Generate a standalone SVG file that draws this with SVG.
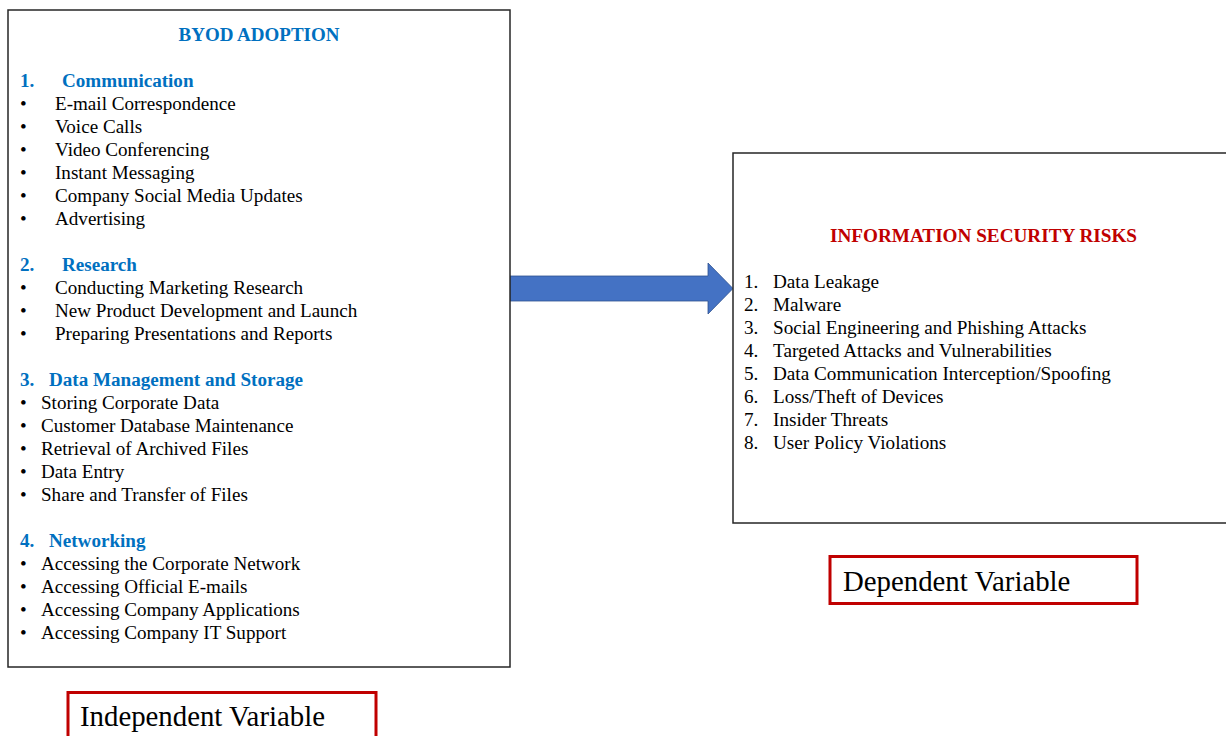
<svg xmlns="http://www.w3.org/2000/svg" width="1226" height="736" viewBox="0 0 1226 736">
  <style>
    .box { fill: #ffffff; stroke: #262626; stroke-width: 1.5; }
    .lbl { fill: #ffffff; stroke: #C00000; stroke-width: 3; }
    text { font-family: "Liberation Serif", "Times New Roman", serif; fill: #000000; }
    .item { font-size: 19.1px; }
    .head { font-size: 19.1px; font-weight: bold; fill: #0070C0; }
    .title-blue { font-size: 19px; font-weight: bold; fill: #0070C0; }
    .title-red { font-size: 19.2px; font-weight: bold; fill: #C00000; }
    .risk { font-size: 19.2px; }
    .var { font-size: 28.8px; }
  </style>

  <!-- connector: block arrow from adoption panel to risks panel -->
  <g id="connectors">
    <path d="M510,276 H708 V263 L733,288.5 L708,314 V301 H510 Z" fill="#4472C4" stroke="#2F528F" stroke-width="0.8"/>
  </g>

  <!-- left panel: BYOD adoption -->
  <g id="byod-adoption">
    <rect class="box" x="8" y="10" width="502" height="657"/>
    <text class="title-blue" x="259" y="41" text-anchor="middle">BYOD ADOPTION</text>

    <text class="head" x="20" y="87">1.</text>
    <text class="head" x="62" y="87">Communication</text>
    <g class="item">
      <text x="20" y="110">•</text><text x="55" y="110">E-mail Correspondence</text>
      <text x="20" y="133">•</text><text x="55" y="133">Voice Calls</text>
      <text x="20" y="156">•</text><text x="55" y="156">Video Conferencing</text>
      <text x="20" y="179">•</text><text x="55" y="179">Instant Messaging</text>
      <text x="20" y="202">•</text><text x="55" y="202">Company Social Media Updates</text>
      <text x="20" y="225">•</text><text x="55" y="225">Advertising</text>
    </g>

    <text class="head" x="20" y="271">2.</text>
    <text class="head" x="62" y="271">Research</text>
    <g class="item">
      <text x="20" y="294">•</text><text x="55" y="294">Conducting Marketing Research</text>
      <text x="20" y="317">•</text><text x="55" y="317">New Product Development and Launch</text>
      <text x="20" y="340">•</text><text x="55" y="340">Preparing Presentations and Reports</text>
    </g>

    <text class="head" x="20" y="386">3.</text>
    <text class="head" x="49" y="386">Data Management and Storage</text>
    <g class="item">
      <text x="20" y="409">•</text><text x="41" y="409">Storing Corporate Data</text>
      <text x="20" y="432">•</text><text x="41" y="432">Customer Database Maintenance</text>
      <text x="20" y="455">•</text><text x="41" y="455">Retrieval of Archived Files</text>
      <text x="20" y="478">•</text><text x="41" y="478">Data Entry</text>
      <text x="20" y="501">•</text><text x="41" y="501">Share and Transfer of Files</text>
    </g>

    <text class="head" x="20" y="547">4.</text>
    <text class="head" x="49" y="547">Networking</text>
    <g class="item">
      <text x="20" y="570">•</text><text x="41" y="570">Accessing the Corporate Network</text>
      <text x="20" y="593">•</text><text x="41" y="593">Accessing Official E-mails</text>
      <text x="20" y="616">•</text><text x="41" y="616">Accessing Company Applications</text>
      <text x="20" y="639">•</text><text x="41" y="639">Accessing Company IT Support</text>
    </g>
  </g>

  <!-- right panel: information security risks -->
  <g id="security-risks">
    <rect class="box" x="733" y="153" width="500" height="370"/>
    <text class="title-red" x="983.5" y="242" text-anchor="middle">INFORMATION SECURITY RISKS</text>
    <g class="risk">
      <text x="744" y="288">1.</text><text x="773" y="288">Data Leakage</text>
      <text x="744" y="311">2.</text><text x="773" y="311">Malware</text>
      <text x="744" y="334">3.</text><text x="773" y="334">Social Engineering and Phishing Attacks</text>
      <text x="744" y="357">4.</text><text x="773" y="357">Targeted Attacks and Vulnerabilities</text>
      <text x="744" y="380">5.</text><text x="773" y="380">Data Communication Interception/Spoofing</text>
      <text x="744" y="403">6.</text><text x="773" y="403">Loss/Theft of Devices</text>
      <text x="744" y="426">7.</text><text x="773" y="426">Insider Threats</text>
      <text x="744" y="449">8.</text><text x="773" y="449">User Policy Violations</text>
    </g>
  </g>

  <!-- variable labels -->
  <g id="independent-variable">
    <rect class="lbl" x="68" y="692.5" width="308" height="60"/>
    <text class="var" x="80" y="726">Independent Variable</text>
  </g>
  <g id="dependent-variable">
    <rect class="lbl" x="830" y="556.5" width="307" height="47"/>
    <text class="var" x="843" y="591">Dependent Variable</text>
  </g>
</svg>
